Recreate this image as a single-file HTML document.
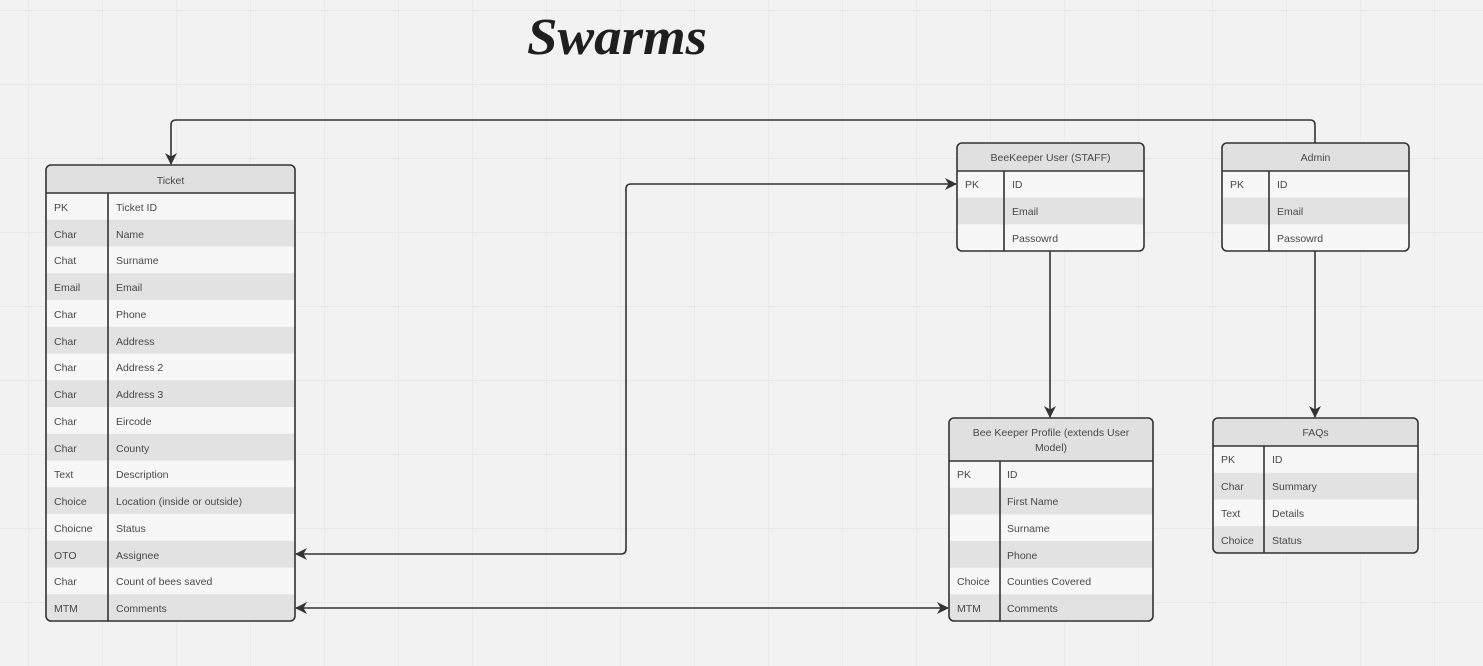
<!DOCTYPE html>
<html><head><meta charset="utf-8"><style>
html,body{margin:0;padding:0;width:1483px;height:666px;overflow:hidden;background:#f2f2f2}
svg{display:block}
text{font-family:"Liberation Sans",sans-serif;font-size:10.5px;fill:#484848}
.h{text-anchor:middle}
</style></head><body>
<svg width="1483" height="666" viewBox="0 0 1483 666" xmlns="http://www.w3.org/2000/svg">
<defs>
<pattern id="g" x="28" y="10" width="74" height="74" patternUnits="userSpaceOnUse">
<path d="M0 0H74M0 0V74" stroke="#e3e3e3" stroke-width="1.2" fill="none"/>
</pattern>
<marker id="a" markerWidth="12" markerHeight="12" refX="11" refY="6" orient="auto" markerUnits="userSpaceOnUse">
<path d="M0 0L12 6L0 12L3.5 6Z" fill="#333"/>
</marker>
<marker id="s" markerWidth="12" markerHeight="12" refX="1" refY="6" orient="auto" markerUnits="userSpaceOnUse">
<path d="M12 0L0 6L12 12L8.5 6Z" fill="#333"/>
</marker>
<clipPath id="c1"><rect x="46" y="165" width="249" height="456" rx="5"/></clipPath>
<clipPath id="c2"><rect x="957" y="143" width="187" height="108" rx="5"/></clipPath>
<clipPath id="c3"><rect x="1222" y="143" width="187" height="108" rx="5"/></clipPath>
<clipPath id="c4"><rect x="949" y="418" width="204" height="203" rx="5"/></clipPath>
<clipPath id="c5"><rect x="1213" y="418" width="205" height="135" rx="5"/></clipPath>
</defs>
<rect width="1483" height="666" fill="url(#g)"/>

<text x="527" y="54" textLength="180" lengthAdjust="spacingAndGlyphs" style="font-family:'Liberation Serif',serif;font-style:italic;font-weight:bold;font-size:52px;fill:#1e1e1e">Swarms</text>

<!-- connectors -->
<g fill="none" stroke="#333" stroke-width="1.6">
<path d="M1315 143V125Q1315 120 1310 120H176Q171 120 171 125V164" marker-end="url(#a)"/>
<path d="M1050 251V417" marker-end="url(#a)"/>
<path d="M1315 251V417" marker-end="url(#a)"/>
<path d="M296 554H621Q626 554 626 549V189Q626 184 631 184H956" marker-start="url(#s)" marker-end="url(#a)"/>
<path d="M296 608H948" marker-start="url(#s)" marker-end="url(#a)"/>
</g>

<!-- Ticket -->
<g clip-path="url(#c1)">
<rect x="46" y="165" width="249" height="456" fill="#f7f7f7"/>
<rect x="46" y="165" width="249" height="28" fill="#e0e0e0"/>
<rect x="46" y="219.75" width="249" height="26.75" fill="#e2e2e2"/>
<rect x="46" y="273.25" width="249" height="26.75" fill="#e2e2e2"/>
<rect x="46" y="326.75" width="249" height="26.75" fill="#e2e2e2"/>
<rect x="46" y="380.25" width="249" height="26.75" fill="#e2e2e2"/>
<rect x="46" y="433.75" width="249" height="26.75" fill="#e2e2e2"/>
<rect x="46" y="487.25" width="249" height="26.75" fill="#e2e2e2"/>
<rect x="46" y="540.75" width="249" height="26.75" fill="#e2e2e2"/>
<rect x="46" y="594.25" width="249" height="26.75" fill="#e2e2e2"/>
</g>
<path d="M46 193H295M108 193V621" stroke="#333" stroke-width="1.6"/>
<rect x="46" y="165" width="249" height="456" rx="5" fill="none" stroke="#333" stroke-width="1.6"/>
<text x="170.5" y="184" class="h">Ticket</text>
<text x="54" y="211">PK</text><text x="116" y="211">Ticket ID</text>
<text x="54" y="238">Char</text><text x="116" y="238">Name</text>
<text x="54" y="264">Chat</text><text x="116" y="264">Surname</text>
<text x="54" y="291">Email</text><text x="116" y="291">Email</text>
<text x="54" y="318">Char</text><text x="116" y="318">Phone</text>
<text x="54" y="345">Char</text><text x="116" y="345">Address</text>
<text x="54" y="371">Char</text><text x="116" y="371">Address 2</text>
<text x="54" y="398">Char</text><text x="116" y="398">Address 3</text>
<text x="54" y="425">Char</text><text x="116" y="425">Eircode</text>
<text x="54" y="452">Char</text><text x="116" y="452">County</text>
<text x="54" y="478">Text</text><text x="116" y="478">Description</text>
<text x="54" y="505">Choice</text><text x="116" y="505">Location (inside or outside)</text>
<text x="54" y="532">Choicne</text><text x="116" y="532">Status</text>
<text x="54" y="559">OTO</text><text x="116" y="559">Assignee</text>
<text x="54" y="585">Char</text><text x="116" y="585">Count of bees saved</text>
<text x="54" y="612">MTM</text><text x="116" y="612">Comments</text>

<!-- BeeKeeper User -->
<g clip-path="url(#c2)">
<rect x="957" y="143" width="187" height="108" fill="#f7f7f7"/>
<rect x="957" y="143" width="187" height="28" fill="#e0e0e0"/>
<rect x="957" y="197.7" width="187" height="26.7" fill="#e2e2e2"/>
</g>
<path d="M957 171H1144M1004 171V251" stroke="#333" stroke-width="1.6"/>
<rect x="957" y="143" width="187" height="108" rx="5" fill="none" stroke="#333" stroke-width="1.6"/>
<text x="1050.5" y="161" class="h">BeeKeeper User (STAFF)</text>
<text x="965" y="188">PK</text><text x="1012" y="188">ID</text>
<text x="1012" y="215">Email</text>
<text x="1012" y="242">Passowrd</text>

<!-- Admin -->
<g clip-path="url(#c3)">
<rect x="1222" y="143" width="187" height="108" fill="#f7f7f7"/>
<rect x="1222" y="143" width="187" height="28" fill="#e0e0e0"/>
<rect x="1222" y="197.7" width="187" height="26.7" fill="#e2e2e2"/>
</g>
<path d="M1222 171H1409M1269 171V251" stroke="#333" stroke-width="1.6"/>
<rect x="1222" y="143" width="187" height="108" rx="5" fill="none" stroke="#333" stroke-width="1.6"/>
<text x="1315.5" y="161" class="h">Admin</text>
<text x="1230" y="188">PK</text><text x="1277" y="188">ID</text>
<text x="1277" y="215">Email</text>
<text x="1277" y="242">Passowrd</text>

<!-- Bee Keeper Profile -->
<g clip-path="url(#c4)">
<rect x="949" y="418" width="204" height="203" fill="#f7f7f7"/>
<rect x="949" y="418" width="204" height="43" fill="#e0e0e0"/>
<rect x="949" y="487.7" width="204" height="26.7" fill="#e2e2e2"/>
<rect x="949" y="541" width="204" height="26.7" fill="#e2e2e2"/>
<rect x="949" y="594.3" width="204" height="26.7" fill="#e2e2e2"/>
</g>
<path d="M949 461H1153M1000 461V621" stroke="#333" stroke-width="1.6"/>
<rect x="949" y="418" width="204" height="203" rx="5" fill="none" stroke="#333" stroke-width="1.6"/>
<text x="1051" y="436" class="h">Bee Keeper Profile (extends User</text>
<text x="1051" y="451" class="h">Model)</text>
<text x="957" y="478">PK</text><text x="1007" y="478">ID</text>
<text x="1007" y="505">First Name</text>
<text x="1007" y="532">Surname</text>
<text x="1007" y="559">Phone</text>
<text x="957" y="585">Choice</text><text x="1007" y="585">Counties Covered</text>
<text x="957" y="612">MTM</text><text x="1007" y="612">Comments</text>

<!-- FAQs -->
<g clip-path="url(#c5)">
<rect x="1213" y="418" width="205" height="135" fill="#f7f7f7"/>
<rect x="1213" y="418" width="205" height="28" fill="#e0e0e0"/>
<rect x="1213" y="472.75" width="205" height="26.75" fill="#e2e2e2"/>
<rect x="1213" y="526.25" width="205" height="26.75" fill="#e2e2e2"/>
</g>
<path d="M1213 446H1418M1264 446V553" stroke="#333" stroke-width="1.6"/>
<rect x="1213" y="418" width="205" height="135" rx="5" fill="none" stroke="#333" stroke-width="1.6"/>
<text x="1315.5" y="436" class="h">FAQs</text>
<text x="1221" y="463">PK</text><text x="1272" y="463">ID</text>
<text x="1221" y="490">Char</text><text x="1272" y="490">Summary</text>
<text x="1221" y="517">Text</text><text x="1272" y="517">Details</text>
<text x="1221" y="544">Choice</text><text x="1272" y="544">Status</text>
</svg>
</body></html>
